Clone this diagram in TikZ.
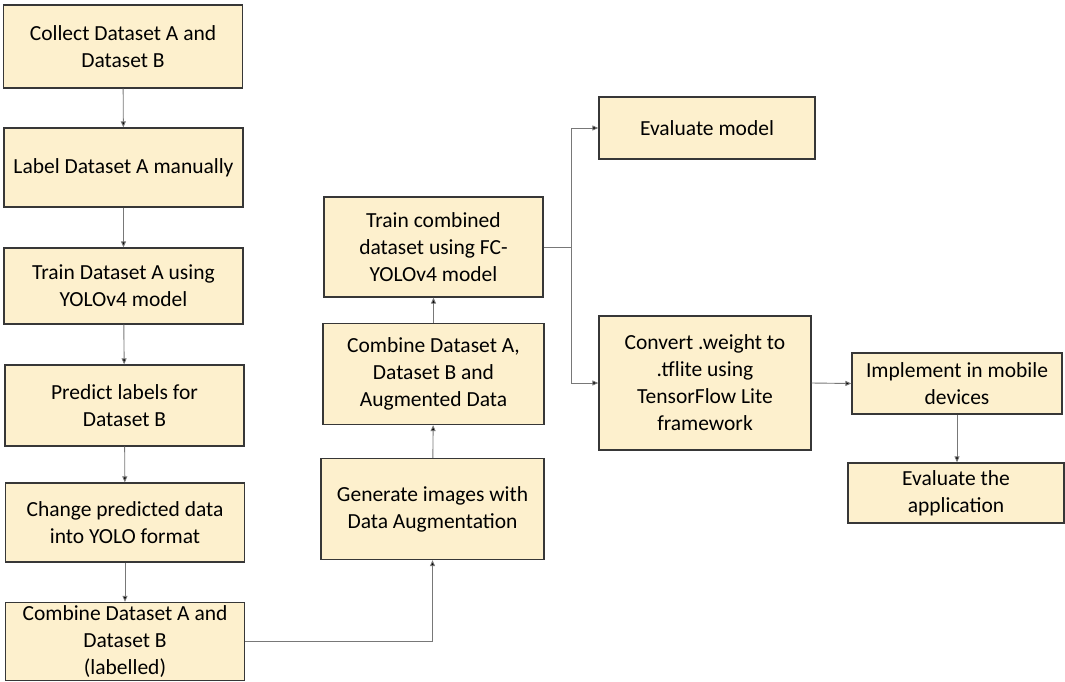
\documentclass[tikz,border=0pt]{standalone}
\usepackage{fontspec}
\setmainfont{Carlito}
\usepackage{tikz}
\usetikzlibrary{arrows.meta}
\definecolor{boxfill}{RGB}{253,240,205}
\definecolor{boxline}{RGB}{55,55,55}
\definecolor{linkgray}{RGB}{120,120,120}

\begin{document}
\begin{tikzpicture}[
		x=1pt, y=-1pt,
		box/.style = {shape=rectangle, draw=boxline, line width=1.3pt, fill=boxfill, align=center, inner sep=0pt,
			font=\fontsize{21.5}{27}\selectfont},
		leftbox/.style = {box, minimum width=239pt, minimum height=79pt},
		midbox/.style = {box, minimum width=221pt, minimum height=101pt},
		link/.style = {draw=linkgray, line width=0.9pt, -{Triangle[length=6pt, width=5pt, fill=black]}}]
		\useasboundingbox (0,0) rectangle (1065,681);
		\node[leftbox, minimum height=83pt] (collect) at (123,46.5) {Collect Dataset A and\\Dataset B};
		\node[leftbox] (label) at (123.5,167.5) {Label Dataset A manually};
		\node[leftbox, minimum height=76pt] (trainA) at (123.5,286) {Train Dataset A using\\YOLOv4 model};
		\node[leftbox, minimum height=81pt] (predict) at (124.5,405.5) {Predict labels for\\Dataset B};
		\node[leftbox] (change) at (125,522.5) {Change predicted data\\into YOLO format};
		\node[leftbox, minimum height=78pt] (combineAB) at (125,641.5) {Combine Dataset A and\\Dataset B\\(labelled)};
		\node[midbox, minimum width=223pt] (generate) at (432.5,509) {Generate images with\\Data Augmentation};
		\node[midbox] (combineAug) at (433.5,374) {Combine Dataset A,\\Dataset B and\\Augmented Data};
		\node[midbox, minimum width=219pt, minimum height=100pt] (trainFC) at (433.5,247) {Train combined\\dataset using FC-\\YOLOv4 model};
		\node[box, minimum width=216pt, minimum height=62pt] (evalModel) at (707,128) {Evaluate model};
		\node[box, minimum width=212pt, minimum height=134pt] (convert) at (705,383) {Convert .weight to\\.tflite using\\TensorFlow Lite\\framework};
		\node[box, minimum width=210pt, minimum height=61pt] (implement) at (957,383.5) {Implement in mobile\\devices};
		\node[box, minimum width=216pt, minimum height=60pt] (evalApp) at (956,493) {Evaluate the\\application};
		\coordinate (split) at (571,247);

		\draw[link] (collect) -- (label);
		\draw[link] (label) -- (trainA);
		\draw[link] (trainA) -- (predict);
		\draw[link] (predict) -- (change);
		\draw[link] (change) -- (combineAB);
		\draw[link] (combineAB.east) -| (generate.south);
		\draw[link] (generate) -- (combineAug);
		\draw[link] (combineAug) -- (trainFC);
		\draw[draw=linkgray, line width=0.9pt] (trainFC.east) -- (split);
		\draw[link] (split) |- (evalModel.west);
		\draw[link] (split) |- (convert.west);
		\draw[link] (convert.east) -- (implement.west);
		\draw[link] (implement.south) -- (implement.south |- evalApp.north);
	\end{tikzpicture}
\end{document}
